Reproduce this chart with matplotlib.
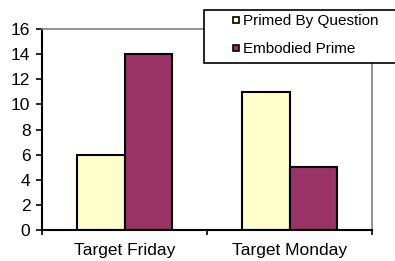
import matplotlib
matplotlib.use("Agg")
import matplotlib.pyplot as plt
from matplotlib.patches import Rectangle
from matplotlib.lines import Line2D
import numpy as np

categories = ["Target Friday", "Target Monday"]
series_names = ["Primed By Question", "Embodied Prime"]
primed = [6, 11]
embodied = [14, 5]
yticks = [0, 2, 4, 6, 8, 10, 12, 14, 16]
colors = ["#FFFFCC", "#993366"]

plt.rcParams['font.family'] = ['Liberation Sans', 'DejaVu Sans']
W, H = 395, 261
fig = plt.figure(figsize=(W / 100, H / 100), dpi=100)
ax = fig.add_axes([42 / W, 1 - 230 / H, 330 / W, (230 - 29) / H])

x = np.arange(len(categories))
bw = 0.29
ax.bar(x - bw / 2, primed, bw, color=colors[0], edgecolor="black", linewidth=1.5)
ax.bar(x + bw / 2, embodied, bw, color=colors[1], edgecolor="black", linewidth=1.5)

ax.set_xlim(-0.5, 1.5)
ax.set_ylim(0, 16)
ax.set_yticks(yticks)
ax.tick_params(axis='y', labelsize=12.5, length=4.3, width=1.2, direction='out', pad=4)
ax.set_xticks([-0.5, 0.5, 1.5])
ax.set_xticklabels([])
ax.set_xticks(x, minor=True)
ax.set_xticklabels(categories, minor=True, fontsize=12.5)
ax.tick_params(axis='x', which='major', length=3.5, width=1.2, direction='out')
ax.tick_params(axis='x', which='minor', length=0, pad=9.5)

for s in ['left', 'bottom']:
    ax.spines[s].set_color('black')
    ax.spines[s].set_linewidth(1.5)
for s in ['top', 'right']:
    ax.spines[s].set_color('#808080')
    ax.spines[s].set_linewidth(1.2)

# legend frame extending past the right edge
fig.patches.append(Rectangle((204 / W, 1 - 63 / H), 300 / W, 53 / H, transform=fig.transFigure,
                             facecolor='white', edgecolor='black', linewidth=1.2, zorder=5))
handles = [Line2D([], [], linestyle='none', marker='s', markersize=5, markerfacecolor=c,
                  markeredgecolor='black', markeredgewidth=1.2) for c in colors]
leg = fig.legend(handles=handles, labels=series_names, loc='upper left',
                 bbox_to_anchor=(231 / W, 1 - 14.5 / H),
                 fontsize=11, frameon=False,
                 handlelength=0.6, handletextpad=0.2,
                 borderpad=0, labelspacing=0.9, borderaxespad=0)
leg.set_zorder(6)

fig.savefig("out.png", dpi=100)
